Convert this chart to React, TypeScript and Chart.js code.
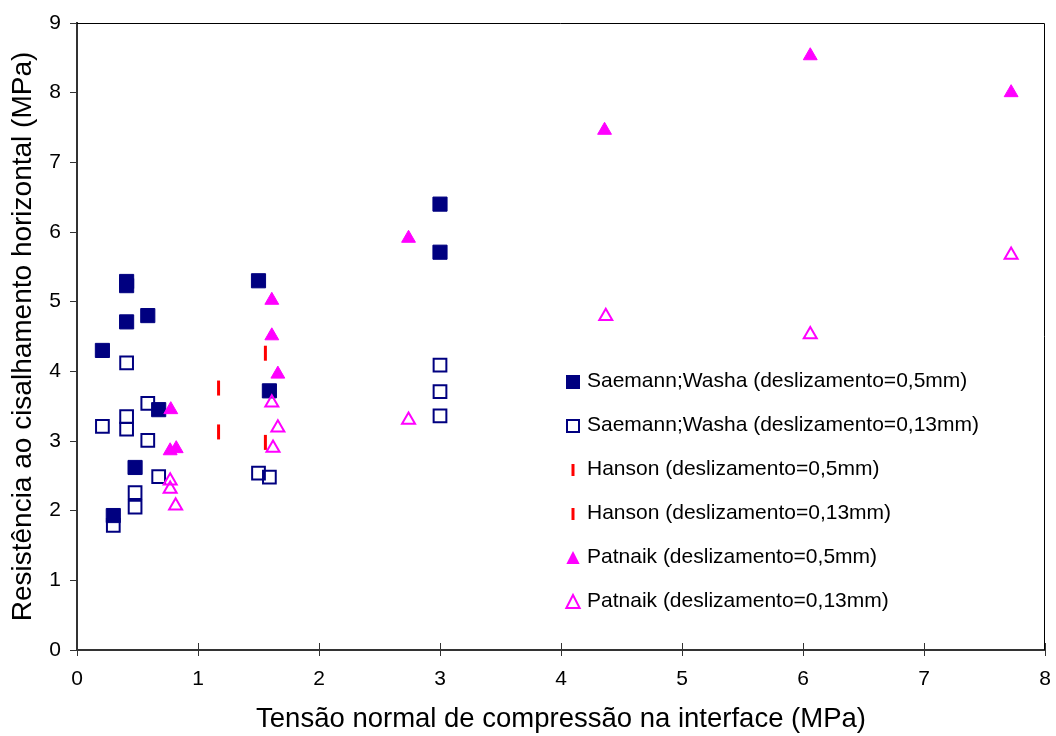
import React, { useEffect, useRef } from "react";
import { Chart, registerables } from "chart.js";

Chart.register(...registerables);

// ---- data ----
const saemann05X = [0.21, 0.41, 0.41, 0.41, 0.585, 0.30, 0.48, 0.675, 1.50, 1.59, 3.0, 3.0];
const saemann05Y = [4.30, 5.29, 5.23, 4.71, 4.80, 1.93, 2.62, 3.45, 5.30, 3.72, 6.40, 5.71];

const saemann013X = [0.21, 0.41, 0.41, 0.41, 0.585, 0.585, 0.675, 0.48, 0.48, 0.30, 1.50, 1.59, 3.0, 3.0, 3.0];
const saemann013Y = [3.21, 4.12, 3.35, 3.17, 3.54, 3.01, 2.49, 2.26, 2.05, 1.79, 2.54, 2.48, 4.09, 3.71, 3.36];

const hanson05X = [1.17, 1.557];
const hanson05Y = [3.76, 4.26];

const hanson013X = [1.17, 1.557];
const hanson013Y = [3.13, 2.98];

const patnaik05X = [0.775, 0.77, 0.82, 1.61, 1.61, 1.66, 2.74, 4.36, 6.06, 7.72];
const patnaik05Y = [3.45, 2.86, 2.89, 5.02, 4.51, 3.96, 5.91, 7.46, 8.53, 8.00];

const patnaik013X = [0.77, 0.77, 0.815, 1.61, 1.66, 1.62, 2.74, 4.37, 6.06, 7.72];
const patnaik013Y = [2.43, 2.31, 2.07, 3.55, 3.19, 2.90, 3.30, 4.79, 4.53, 5.67];

const seriesLabels = [
  "Saemann;Washa (deslizamento=0,5mm)",
  "Saemann;Washa (deslizamento=0,13mm)",
  "Hanson (deslizamento=0,5mm)",
  "Hanson (deslizamento=0,13mm)",
  "Patnaik (deslizamento=0,5mm)",
  "Patnaik (deslizamento=0,13mm)",
];

const xTicks = [0, 1, 2, 3, 4, 5, 6, 7, 8];
const yTicks = [0, 1, 2, 3, 4, 5, 6, 7, 8, 9];

const xTitle = "Tensão normal de compressão na interface (MPa)";
const yTitle = "Resistência ao cisalhamento horizontal (MPa)";

const NAVY = "#000080";
const MAGENTA = "#FF00FF";
const RED = "#FF0000";
const FONT = "'Liberation Sans', Arial, sans-serif";

const zip = (xs: number[], ys: number[]) => xs.map((x, i) => ({ x, y: ys[i] }));

type Marker = "sqFill" | "sqOpen" | "dash" | "triFill" | "triOpen";
const markers: Marker[] = ["sqFill", "sqOpen", "dash", "dash", "triFill", "triOpen"];
const markerColors = [NAVY, NAVY, RED, RED, MAGENTA, MAGENTA];

function drawLegendMarker(ctx: CanvasRenderingContext2D, m: Marker, color: string, x: number, y: number) {
  ctx.save();
  ctx.fillStyle = color;
  ctx.strokeStyle = color;
  if (m === "sqFill") {
    ctx.fillRect(x - 7, y - 7, 14, 14);
  } else if (m === "sqOpen") {
    ctx.lineWidth = 2;
    ctx.strokeRect(x - 6, y - 6, 12, 12);
  } else if (m === "dash") {
    ctx.fillRect(x - 1.5, y - 6, 3, 12);
  } else {
    const r = 7;
    ctx.beginPath();
    ctx.moveTo(x, y - r);
    ctx.lineTo(x + r * 0.95, y + r * 0.85);
    ctx.lineTo(x - r * 0.95, y + r * 0.85);
    ctx.closePath();
    if (m === "triFill") ctx.fill();
    else {
      ctx.lineWidth = 2;
      ctx.stroke();
    }
  }
  ctx.restore();
}

const framePlugin = {
  id: "frameAndLegend",
  afterDraw(chart: any) {
    const { ctx, chartArea } = chart;
    const { left, right, top, bottom } = chartArea;
    ctx.save();
    // top and right frame
    ctx.strokeStyle = "#000";
    ctx.lineWidth = 1;
    ctx.beginPath();
    ctx.moveTo(left, top + 0.5);
    ctx.lineTo(right - 0.5, top + 0.5);
    ctx.lineTo(right - 0.5, bottom);
    ctx.stroke();
    // inward part of x ticks
    const xs = chart.scales.x;
    ctx.strokeStyle = "#333";
    ctx.lineWidth = 1;
    xTicks.forEach((t) => {
      const px = Math.round(xs.getPixelForValue(t)) + 0.5;
      ctx.beginPath();
      ctx.moveTo(px, bottom - 7);
      ctx.lineTo(px, bottom);
      ctx.stroke();
    });
    // legend
    ctx.font = `21px ${FONT}`;
    ctx.fillStyle = "#000";
    ctx.textBaseline = "middle";
    ctx.textAlign = "left";
    seriesLabels.forEach((lab, i) => {
      const cy = 382 + i * 44;
      drawLegendMarker(ctx, markers[i], markerColors[i], 573, cy);
      ctx.fillText(lab, 587, cy - 1);
    });
    ctx.restore();
  },
};

export default function App() {
  const ref = useRef<HTMLCanvasElement | null>(null);

  useEffect(() => {
    document.body.style.margin = "0";
    const canvas = ref.current;
    if (!canvas) return;
    const chart = new Chart(canvas, {
      type: "scatter",
      data: {
        datasets: [
          {
            label: seriesLabels[0],
            data: zip(saemann05X, saemann05Y),
            pointStyle: "rect",
            pointRadius: 10,
            borderWidth: 1,
            backgroundColor: NAVY,
            borderColor: NAVY,
            order: 5,
          },
          {
            label: seriesLabels[1],
            data: zip(saemann013X, saemann013Y),
            pointStyle: "rect",
            pointRadius: 9,
            borderWidth: 2,
            backgroundColor: "rgba(0,0,0,0)",
            borderColor: NAVY,
            order: 4,
          },
          {
            label: seriesLabels[2],
            data: zip(hanson05X, hanson05Y),
            pointStyle: "line",
            pointRotation: 90,
            pointRadius: 7.5,
            borderWidth: 3,
            backgroundColor: RED,
            borderColor: RED,
            order: 3,
          },
          {
            label: seriesLabels[3],
            data: zip(hanson013X, hanson013Y),
            pointStyle: "line",
            pointRotation: 90,
            pointRadius: 7.5,
            borderWidth: 3,
            backgroundColor: RED,
            borderColor: RED,
            order: 2,
          },
          {
            label: seriesLabels[4],
            data: zip(patnaik05X, patnaik05Y),
            pointStyle: "triangle",
            pointRadius: 8,
            borderWidth: 1,
            backgroundColor: MAGENTA,
            borderColor: MAGENTA,
            order: 1,
          },
          {
            label: seriesLabels[5],
            data: zip(patnaik013X, patnaik013Y),
            pointStyle: "triangle",
            pointRadius: 7.5,
            borderWidth: 2,
            backgroundColor: "rgba(0,0,0,0)",
            borderColor: MAGENTA,
            order: 0,
          },
        ] as any,
      },
      options: {
        animation: false,
        responsive: false,
        devicePixelRatio: 1,
        layout: { padding: { top: 23, right: 0, left: 0, bottom: 0 } },
        plugins: {
          legend: { display: false },
          tooltip: { enabled: false },
        },
        scales: {
          x: {
            type: "linear",
            min: 0,
            max: 8,
            afterFit: (s: any) => {
              s.height = 86;
              s.paddingLeft = 0;
              s.paddingRight = 8;
            },
            afterBuildTicks: (s: any) => {
              s.ticks = xTicks.map((v) => ({ value: v }));
            },
            border: { display: true, color: "#333", width: 2 },
            grid: { drawOnChartArea: false, drawTicks: true, tickLength: 6, color: "#333", lineWidth: 1 },
            ticks: { color: "#000", font: { family: FONT, size: 21 }, padding: 11, maxRotation: 0 },
            title: {
              display: true,
              text: xTitle,
              color: "#000",
              font: { family: FONT, size: 27.5 },
              padding: { top: 0, bottom: 0 },
            },
          },
          y: {
            type: "linear",
            min: 0,
            max: 9,
            afterFit: (s: any) => {
              s.width = 77;
            },
            afterBuildTicks: (s: any) => {
              s.ticks = yTicks.map((v) => ({ value: v }));
            },
            border: { display: true, color: "#333", width: 2 },
            grid: { drawOnChartArea: false, drawTicks: true, tickLength: 7, color: "#333", lineWidth: 1 },
            ticks: { color: "#000", font: { family: FONT, size: 21 }, padding: 9 },
            title: {
              display: true,
              text: yTitle,
              color: "#000",
              font: { family: FONT, size: 28 },
              padding: { top: 6, bottom: 0 },
            },
          },
        },
      },
      plugins: [framePlugin],
    });
    return () => chart.destroy();
  }, []);

  return (
    <div style={{ width: 1056, height: 736 }}>
      <canvas ref={ref} width={1056} height={736} style={{ display: "block" }} />
    </div>
  );
}
